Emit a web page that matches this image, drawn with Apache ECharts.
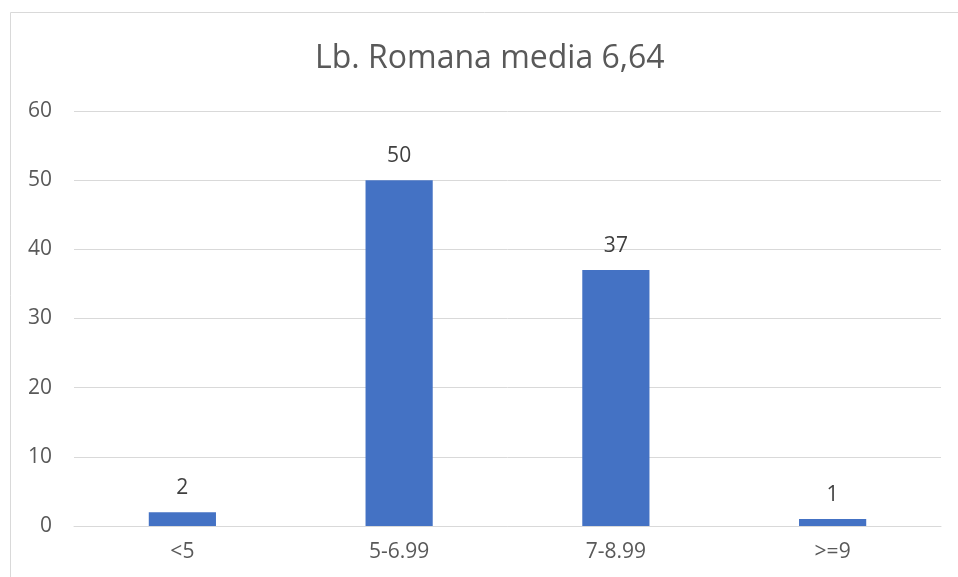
<!DOCTYPE html>
<html><head><meta charset="utf-8">
<script src="https://cdn.jsdelivr.net/npm/echarts@6/dist/echarts.min.js"></script>
<style>html,body{margin:0;padding:0;background:#fff}#c{width:958px;height:577px}</style>
</head><body><div id="c"></div>
<script>
const categories = ['<5', '5-6.99', '7-8.99', '>=9'];
const values = [2, 50, 37, 1];
const titleText = 'Lb. Romana media 6,64';
const yTicks = [0, 10, 20, 30, 40, 50, 60];

const chart = echarts.init(document.getElementById('c'));
const font = 'Open Sans, Noto Sans, sans-serif';
chart.setOption({
  animation: false,
  title: {
    text: titleText, left: 310, top: 38,
    textStyle: {fontFamily: font, fontSize: 32, fontWeight: 'normal', color: '#595959'}
  },
  graphic: [{
    type: 'rect', shape: {x: 10.5, y: 12.5, width: 1000, height: 1000},
    style: {fill: 'none', stroke: '#d9d9d9', lineWidth: 1}, silent: true
  }],
  grid: {left: 74, right: 17, top: 111, bottom: 51, containLabel: false},
  xAxis: {
    type: 'category', data: categories,
    axisLine: {lineStyle: {color: '#d9d9d9', width: 1}},
    axisTick: {show: false},
    axisLabel: {fontFamily: font, fontSize: 21, color: '#595959', margin: 16}
  },
  yAxis: {
    type: 'value', min: yTicks[0], max: yTicks[yTicks.length - 1], interval: 10,
    axisLine: {show: false}, axisTick: {show: false},
    splitLine: {lineStyle: {color: '#d9d9d9', width: 1}},
    axisLabel: {fontFamily: font, fontSize: 21, color: '#595959', margin: 22}
  },
  series: [{
    type: 'bar', data: values, barWidth: '31%',
    itemStyle: {color: '#4472C4'},
    label: {show: true, position: 'top', distance: 14, fontFamily: font, fontSize: 21, color: '#404040'}
  }]
});
</script></body></html>
